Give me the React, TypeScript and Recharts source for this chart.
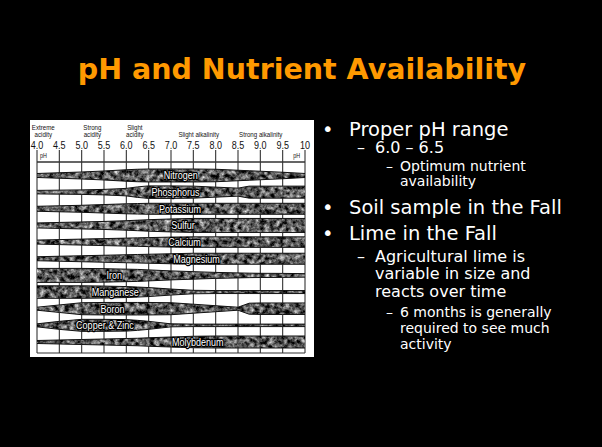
import React from "react";
import { ComposedChart, Area, Scatter, XAxis, YAxis, CartesianGrid } from "recharts";

const phPoints = [4, 4.5, 5, 5.5, 6, 6.25, 6.5, 7, 7.5, 8, 8.5, 8.75, 9, 9.5, 10];
const phTicks = [4, 4.5, 5, 5.5, 6, 6.5, 7, 7.5, 8, 8.5, 9, 9.5, 10];

const nutrients = [
  "Nitrogen",
  "Phosphorus",
  "Potassium",
  "Sulfur",
  "Calcium",
  "Magnesium",
  "Iron",
  "Manganese",
  "Boron",
  "Copper & Zinc",
  "Molybdenum",
];

// band thickness (availability) at each phPoint, in px of a 16.65px row
const nitrogen = [4, 5.5, 7, 9, 11.5, 12.5, 13, 13, 13, 12.5, 10.5, 9.5, 8.5, 6.5, 4];
const phosphorus = [3.5, 4, 4.5, 5.5, 7.5, 10.5, 12.5, 12.5, 12, 10, 8, 12, 12, 12, 12];
const potassium = [5, 6, 7, 8.5, 10, 10.5, 11, 11, 11, 11, 11, 11, 11, 11, 11];
const sulfur = [5, 6, 7, 8, 9.5, 10.5, 11.5, 13, 14, 14, 14, 14, 14, 14, 14];
const calcium = [4, 5, 6, 7, 8, 8.5, 9, 10, 10.5, 10.5, 10.5, 10.5, 10.5, 10.5, 10.5];
const magnesium = [4, 5, 6, 7, 8, 8.5, 9, 10, 11, 11, 11, 11, 11, 11, 11];
const iron = [14, 14, 14, 13.5, 12.5, 12, 11, 9, 7.5, 6, 5, 4.5, 4.2, 4, 3.5];
const manganese = [12.5, 12.5, 12.5, 12, 11, 10, 9, 6, 3.5, 3, 3, 3, 3, 3, 3];
const boron = [3, 7.5, 12, 12.5, 12.5, 12.5, 12.5, 12, 9, 6, 3, 11, 11.5, 11.5, 11.5];
const copperZinc = [3, 8, 12, 12, 11.5, 10, 8, 3, 2.5, 2.5, 2.5, 2.5, 2.5, 2.5, 2.5];
const molybdenum = [3, 4, 5, 6, 7, 7.5, 8.5, 10, 11.5, 12, 12, 12, 12, 12, 12];

const thickness = [
  nitrogen,
  phosphorus,
  potassium,
  sulfur,
  calcium,
  magnesium,
  iron,
  manganese,
  boron,
  copperZinc,
  molybdenum,
];

// where each name sits along the band
const labelPh = [7.22, 7.1, 7.2, 7.27, 7.3, 7.57, 5.73, 5.75, 5.69, 5.52, 7.6];

const zonePh = [4.14, 5.24, 6.19, 7.62, 9.01];
const zoneText = [
  ["Extreme", "acidity"],
  ["Strong", "acidity"],
  ["Slight", "acidity"],
  ["Slight alkalinity"],
  ["Strong alkalinity"],
];

const ROW = 16.65;
const gridRows = [-0.81, 0.5, 1.5, 2.5, 3.5, 4.5, 5.5, 6.5, 7.5, 8.5, 9.5, 10.66];

const data = phPoints.map((ph, j) => {
  const row: any = { ph };
  nutrients.forEach((n, i) => {
    const half = thickness[i][j] / ROW / 2;
    row[n] = [i - half, i + half];
  });
  return row;
});

const labelData = nutrients.map((name, i) => ({ ph: labelPh[i], row: i, name }));

const ARIAL = "'Liberation Sans', Arial, sans-serif";
const SANS = "'DejaVu Sans', Verdana, sans-serif";

// Arial squeezed to look like the narrow face of the scanned figure
const Narrow = ({ x, y, size, anchor = "middle", children, ...rest }: any) => (
  <text
    transform={`translate(${x} ${y}) scale(0.82 1)`}
    textAnchor={anchor}
    fontSize={size}
    fontFamily={ARIAL}
    fill="#111"
    {...rest}
  >
    {children}
  </text>
);

const PhTick = (props: any) => {
  const { x, y, payload } = props;
  const v = payload.value;
  return (
    <g>
      <Narrow x={x} y={y} size={11}>
        {v === 10 ? "10" : v.toFixed(1)}
      </Narrow>
      {v === 4 && (
        <Narrow x={x + 3} y={y + 9} size={6.5} anchor="start">
          pH
        </Narrow>
      )}
      {v === 10 && (
        <Narrow x={x - 5} y={y + 9} size={6.5} anchor="end">
          pH
        </Narrow>
      )}
    </g>
  );
};

const ZoneTick = (props: any) => {
  const { x, y, index } = props;
  const lines = zoneText[index] || [];
  return (
    <g>
      {lines.map((l, k) => (
        <Narrow key={k} x={x} y={y - 0.5 - (lines.length - 1 - k) * 7} size={7.5}>
          {l}
        </Narrow>
      ))}
    </g>
  );
};

const BandLabel = (props: any) => {
  const { cx, cy, payload } = props;
  return (
    <Narrow
      x={cx}
      y={cy + 3.9}
      size={11}
      fill="#fff"
      stroke="#000"
      strokeWidth={2.6}
      strokeLinejoin="round"
      paintOrder="stroke"
    >
      {payload.name}
    </Narrow>
  );
};

const Line = ({ x, y, size, children }: { x: number; y: number; size: number; children: any }) => (
  <div
    style={{
      position: "absolute",
      left: x,
      top: y - size * 0.48,
      fontSize: size,
      lineHeight: `${size}px`,
      fontFamily: SANS,
      color: "#fff",
      whiteSpace: "nowrap",
    }}
  >
    {children}
  </div>
);

const App = () => {
  return (
    <div
      style={{
        position: "absolute",
        left: 0,
        top: 0,
        width: 602,
        height: 447,
        background: "#000",
        overflow: "hidden",
      }}
    >
      <div
        style={{
          position: "absolute",
          left: 0,
          width: 604,
          top: 70 - 17,
          textAlign: "center",
          fontFamily: SANS,
          fontWeight: "bold",
          fontSize: 28.5,
          lineHeight: "34px",
          color: "#ff9900",
        }}
      >
        pH and Nutrient Availability
      </div>

      <div style={{ position: "absolute", left: 30, top: 120 }}>
        <ComposedChart
          width={284}
          height={237}
          data={data}
          margin={{ top: 0, right: 9, bottom: 4, left: 7 }}
          style={{ background: "#fff" }}
        >
          <defs>
            <filter
              id="grainNoise"
              x="0"
              y="0"
              width="100%"
              height="100%"
              colorInterpolationFilters="sRGB"
            >
              <feTurbulence type="fractalNoise" baseFrequency="0.2" numOctaves="4" seed="7" />
              <feColorMatrix
                type="matrix"
                values="1.5 0 0 0 -0.4  1.5 0 0 0 -0.4  1.5 0 0 0 -0.4  0 0 0 0 1"
              />
            </filter>
            <pattern id="grain" patternUnits="userSpaceOnUse" width="284" height="237">
              <rect width="284" height="237" fill="#555" filter="url(#grainNoise)" />
            </pattern>
          </defs>
          <CartesianGrid stroke="#333" strokeWidth={1.1} />
          <XAxis
            xAxisId="zone"
            type="number"
            dataKey="ph"
            domain={[4, 10]}
            allowDataOverflow
            orientation="top"
            ticks={zonePh}
            height={17}
            tickSize={0}
            tickMargin={0}
            axisLine={false}
            tickLine={false}
            tick={<ZoneTick />}
            interval={0}
          />
          <XAxis
            type="number"
            dataKey="ph"
            domain={[4, 10]}
            allowDataOverflow
            orientation="top"
            ticks={phTicks}
            height={25}
            tickSize={12}
            tickMargin={1}
            interval={0}
            axisLine={{ stroke: "#333", strokeWidth: 1.1 }}
            tickLine={{ stroke: "#333", strokeWidth: 1.1 }}
            tick={<PhTick />}
          />
          <YAxis
            type="number"
            domain={[-0.81, 10.66]}
            allowDataOverflow
            reversed
            ticks={gridRows}
            width={0}
            tick={false}
            axisLine={false}
            tickLine={false}
          />
          {nutrients.map((n) => (
            <Area
              key={n}
              type="linear"
              dataKey={n}
              fill="url(#grain)"
              fillOpacity={1}
              stroke="#111"
              strokeWidth={1}
              dot={false}
              activeDot={false}
              isAnimationActive={false}
            />
          ))}
          <Scatter data={labelData} dataKey="row" shape={<BandLabel />} isAnimationActive={false} />
        </ComposedChart>
      </div>

      <Line x={322} y={129} size={19.5}>•</Line>
      <Line x={349} y={129} size={19.5}>Proper pH range</Line>
      <Line x={357} y={148} size={16}>–</Line>
      <Line x={375} y={148} size={16}>6.0 – 6.5</Line>
      <Line x={386} y={166} size={14}>–</Line>
      <Line x={400} y={166} size={14}>Optimum nutrient</Line>
      <Line x={400} y={181} size={14}>availability</Line>
      <Line x={322} y={207} size={19.5}>•</Line>
      <Line x={349} y={207} size={19.5}>Soil sample in the Fall</Line>
      <Line x={322} y={233} size={19.5}>•</Line>
      <Line x={349} y={233} size={19.5}>Lime in the Fall</Line>
      <Line x={357} y={257} size={16}>–</Line>
      <Line x={375} y={257} size={16}>Agricultural lime is</Line>
      <Line x={375} y={274} size={16}>variable in size and</Line>
      <Line x={375} y={292} size={16}>reacts over time</Line>
      <Line x={386} y={312} size={14}>–</Line>
      <Line x={400} y={312} size={14}>6 months is generally</Line>
      <Line x={400} y={328} size={14}>required to see much</Line>
      <Line x={400} y={344} size={14}>activity</Line>
    </div>
  );
};

export default App;
